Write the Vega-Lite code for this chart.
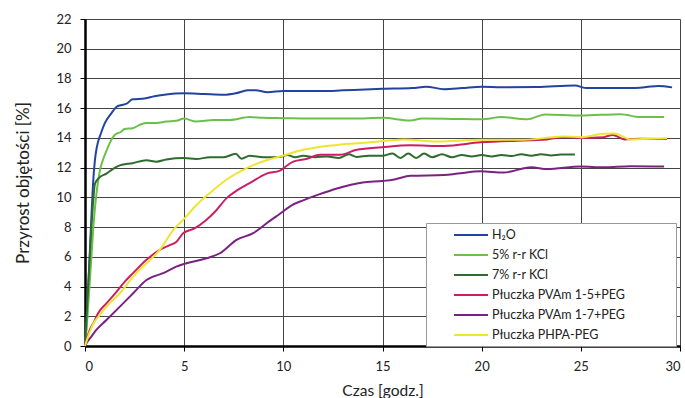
{
  "$schema": "https://vega.github.io/schema/vega-lite/v6.json",
  "width": 595,
  "height": 327,
  "autosize": {"type": "none"},
  "padding": {"left": 85, "top": 19, "right": 5, "bottom": 52},
  "background": "white",
  "config": {
    "view": {"stroke": null},
    "font": "Lato",
    "axis": {
      "labelFont": "Lato", "labelFontSize": 13, "labelColor": "#222",
      "titleFont": "Lato", "titleFontSize": 15.5, "titleFontWeight": "normal", "titleColor": "#222",
      "gridColor": "#444", "gridWidth": 1, "gridOpacity": 1,
      "domainColor": "#000", "domainWidth": 2.5,
      "tickColor": "#000", "tickSize": 5, "tickWidth": 1
    },
    "legend": {
      "labelFont": "Lato", "labelFontSize": 12.5, "labelColor": "#222"
    }
  },
  "data": {"values": [
    {"s":"H₂O","t":0,"v":0},{"s":"H₂O","t":0.1,"v":2},{"s":"H₂O","t":0.2,"v":5},{"s":"H₂O","t":0.3,"v":8},{"s":"H₂O","t":0.4,"v":10.8},{"s":"H₂O","t":0.5,"v":12.5},{"s":"H₂O","t":0.6,"v":13.4},{"s":"H₂O","t":0.8,"v":14.3},{"s":"H₂O","t":1.0,"v":15},{"s":"H₂O","t":1.3,"v":15.6},{"s":"H₂O","t":1.6,"v":16.1},{"s":"H₂O","t":1.8,"v":16.2},{"s":"H₂O","t":2.1,"v":16.3},{"s":"H₂O","t":2.4,"v":16.6},{"s":"H₂O","t":3.0,"v":16.65},{"s":"H₂O","t":3.5,"v":16.8},{"s":"H₂O","t":4.0,"v":16.9},{"s":"H₂O","t":5.0,"v":17.0},{"s":"H₂O","t":6.0,"v":16.95},{"s":"H₂O","t":7.0,"v":16.9},{"s":"H₂O","t":7.6,"v":17.0},{"s":"H₂O","t":8.2,"v":17.2},{"s":"H₂O","t":8.6,"v":17.2},{"s":"H₂O","t":9.2,"v":17.08},{"s":"H₂O","t":10,"v":17.15},{"s":"H₂O","t":12,"v":17.15},{"s":"H₂O","t":13,"v":17.2},{"s":"H₂O","t":15,"v":17.3},{"s":"H₂O","t":16.5,"v":17.35},{"s":"H₂O","t":17.2,"v":17.45},{"s":"H₂O","t":18.1,"v":17.28},{"s":"H₂O","t":19,"v":17.35},{"s":"H₂O","t":20,"v":17.45},{"s":"H₂O","t":21,"v":17.4},{"s":"H₂O","t":22.8,"v":17.42},{"s":"H₂O","t":24.7,"v":17.52},{"s":"H₂O","t":25.3,"v":17.35},{"s":"H₂O","t":26,"v":17.35},{"s":"H₂O","t":27.4,"v":17.35},{"s":"H₂O","t":28.3,"v":17.42},{"s":"H₂O","t":28.9,"v":17.5},{"s":"H₂O","t":29.6,"v":17.4},

    {"s":"5% r-r KCl","t":0,"v":0},{"s":"5% r-r KCl","t":0.1,"v":1.5},{"s":"5% r-r KCl","t":0.2,"v":3.5},{"s":"5% r-r KCl","t":0.3,"v":5.5},{"s":"5% r-r KCl","t":0.45,"v":8.5},{"s":"5% r-r KCl","t":0.6,"v":10.5},{"s":"5% r-r KCl","t":0.75,"v":11.8},{"s":"5% r-r KCl","t":0.9,"v":12.5},{"s":"5% r-r KCl","t":1.1,"v":13.2},{"s":"5% r-r KCl","t":1.3,"v":13.8},{"s":"5% r-r KCl","t":1.5,"v":14.2},{"s":"5% r-r KCl","t":1.8,"v":14.4},{"s":"5% r-r KCl","t":2.0,"v":14.6},{"s":"5% r-r KCl","t":2.4,"v":14.65},{"s":"5% r-r KCl","t":2.8,"v":14.9},{"s":"5% r-r KCl","t":3.1,"v":15.0},{"s":"5% r-r KCl","t":3.6,"v":15.0},{"s":"5% r-r KCl","t":4.1,"v":15.1},{"s":"5% r-r KCl","t":4.6,"v":15.15},{"s":"5% r-r KCl","t":5.0,"v":15.3},{"s":"5% r-r KCl","t":5.6,"v":15.1},{"s":"5% r-r KCl","t":6.5,"v":15.2},{"s":"5% r-r KCl","t":7.3,"v":15.2},{"s":"5% r-r KCl","t":8.3,"v":15.4},{"s":"5% r-r KCl","t":9,"v":15.35},{"s":"5% r-r KCl","t":10,"v":15.33},{"s":"5% r-r KCl","t":12,"v":15.3},{"s":"5% r-r KCl","t":13.5,"v":15.3},{"s":"5% r-r KCl","t":15,"v":15.35},{"s":"5% r-r KCl","t":16.4,"v":15.17},{"s":"5% r-r KCl","t":17,"v":15.3},{"s":"5% r-r KCl","t":18.5,"v":15.28},{"s":"5% r-r KCl","t":20,"v":15.25},{"s":"5% r-r KCl","t":21,"v":15.4},{"s":"5% r-r KCl","t":22.3,"v":15.25},{"s":"5% r-r KCl","t":23.2,"v":15.58},{"s":"5% r-r KCl","t":25,"v":15.5},{"s":"5% r-r KCl","t":27,"v":15.6},{"s":"5% r-r KCl","t":28,"v":15.4},{"s":"5% r-r KCl","t":29.2,"v":15.4},

    {"s":"7% r-r KCl","t":0,"v":0},{"s":"7% r-r KCl","t":0.1,"v":2.5},{"s":"7% r-r KCl","t":0.2,"v":5},{"s":"7% r-r KCl","t":0.3,"v":7.5},{"s":"7% r-r KCl","t":0.4,"v":9.5},{"s":"7% r-r KCl","t":0.5,"v":10.9},{"s":"7% r-r KCl","t":0.7,"v":11.3},{"s":"7% r-r KCl","t":1.08,"v":11.6},{"s":"7% r-r KCl","t":1.4,"v":11.9},{"s":"7% r-r KCl","t":1.75,"v":12.15},{"s":"7% r-r KCl","t":2.4,"v":12.3},{"s":"7% r-r KCl","t":3.1,"v":12.5},{"s":"7% r-r KCl","t":3.6,"v":12.4},{"s":"7% r-r KCl","t":4.1,"v":12.55},{"s":"7% r-r KCl","t":5.0,"v":12.64},{"s":"7% r-r KCl","t":5.6,"v":12.58},{"s":"7% r-r KCl","t":6.3,"v":12.7},{"s":"7% r-r KCl","t":7,"v":12.7},{"s":"7% r-r KCl","t":7.6,"v":12.93},{"s":"7% r-r KCl","t":7.9,"v":12.6},{"s":"7% r-r KCl","t":8.3,"v":12.8},{"s":"7% r-r KCl","t":9,"v":12.7},{"s":"7% r-r KCl","t":9.8,"v":12.72},{"s":"7% r-r KCl","t":10.2,"v":12.85},{"s":"7% r-r KCl","t":10.6,"v":12.7},{"s":"7% r-r KCl","t":11,"v":12.8},{"s":"7% r-r KCl","t":11.6,"v":12.7},{"s":"7% r-r KCl","t":12.2,"v":12.75},{"s":"7% r-r KCl","t":12.8,"v":12.65},{"s":"7% r-r KCl","t":13.3,"v":12.9},{"s":"7% r-r KCl","t":13.7,"v":12.72},{"s":"7% r-r KCl","t":14.3,"v":12.8},{"s":"7% r-r KCl","t":15,"v":12.8},{"s":"7% r-r KCl","t":15.5,"v":12.95},{"s":"7% r-r KCl","t":15.9,"v":12.65},{"s":"7% r-r KCl","t":16.3,"v":12.95},{"s":"7% r-r KCl","t":16.7,"v":12.65},{"s":"7% r-r KCl","t":17.1,"v":12.95},{"s":"7% r-r KCl","t":17.5,"v":12.7},{"s":"7% r-r KCl","t":18,"v":12.9},{"s":"7% r-r KCl","t":18.5,"v":12.7},{"s":"7% r-r KCl","t":19,"v":12.85},{"s":"7% r-r KCl","t":19.5,"v":12.75},{"s":"7% r-r KCl","t":20,"v":12.85},{"s":"7% r-r KCl","t":20.5,"v":12.75},{"s":"7% r-r KCl","t":21,"v":12.85},{"s":"7% r-r KCl","t":21.5,"v":12.78},{"s":"7% r-r KCl","t":22,"v":12.9},{"s":"7% r-r KCl","t":22.5,"v":12.8},{"s":"7% r-r KCl","t":23,"v":12.9},{"s":"7% r-r KCl","t":23.5,"v":12.82},{"s":"7% r-r KCl","t":24,"v":12.88},{"s":"7% r-r KCl","t":24.7,"v":12.88},

    {"s":"Płuczka PVAm 1-5+PEG","t":0,"v":0},{"s":"Płuczka PVAm 1-5+PEG","t":0.24,"v":1.08},{"s":"Płuczka PVAm 1-5+PEG","t":0.45,"v":1.6},{"s":"Płuczka PVAm 1-5+PEG","t":0.66,"v":2.2},{"s":"Płuczka PVAm 1-5+PEG","t":1.08,"v":2.87},{"s":"Płuczka PVAm 1-5+PEG","t":1.5,"v":3.5},{"s":"Płuczka PVAm 1-5+PEG","t":1.92,"v":4.2},{"s":"Płuczka PVAm 1-5+PEG","t":2.42,"v":4.9},{"s":"Płuczka PVAm 1-5+PEG","t":3.1,"v":5.8},{"s":"Płuczka PVAm 1-5+PEG","t":3.77,"v":6.46},{"s":"Płuczka PVAm 1-5+PEG","t":4.3,"v":6.8},{"s":"Płuczka PVAm 1-5+PEG","t":4.6,"v":7.0},{"s":"Płuczka PVAm 1-5+PEG","t":4.96,"v":7.6},{"s":"Płuczka PVAm 1-5+PEG","t":5.5,"v":7.9},{"s":"Płuczka PVAm 1-5+PEG","t":6.13,"v":8.5},{"s":"Płuczka PVAm 1-5+PEG","t":6.6,"v":9.1},{"s":"Płuczka PVAm 1-5+PEG","t":7.14,"v":9.95},{"s":"Płuczka PVAm 1-5+PEG","t":7.7,"v":10.5},{"s":"Płuczka PVAm 1-5+PEG","t":8.3,"v":10.96},{"s":"Płuczka PVAm 1-5+PEG","t":9.16,"v":11.6},{"s":"Płuczka PVAm 1-5+PEG","t":9.83,"v":11.8},{"s":"Płuczka PVAm 1-5+PEG","t":10,"v":11.96},{"s":"Płuczka PVAm 1-5+PEG","t":10.5,"v":12.4},{"s":"Płuczka PVAm 1-5+PEG","t":11.2,"v":12.6},{"s":"Płuczka PVAm 1-5+PEG","t":11.85,"v":12.86},{"s":"Płuczka PVAm 1-5+PEG","t":12.86,"v":12.86},{"s":"Płuczka PVAm 1-5+PEG","t":13.7,"v":13.2},{"s":"Płuczka PVAm 1-5+PEG","t":14.97,"v":13.37},{"s":"Płuczka PVAm 1-5+PEG","t":16.4,"v":13.5},{"s":"Płuczka PVAm 1-5+PEG","t":18.1,"v":13.46},{"s":"Płuczka PVAm 1-5+PEG","t":19.95,"v":13.7},{"s":"Płuczka PVAm 1-5+PEG","t":22.1,"v":13.83},{"s":"Płuczka PVAm 1-5+PEG","t":23.1,"v":13.87},{"s":"Płuczka PVAm 1-5+PEG","t":24.1,"v":14.05},{"s":"Płuczka PVAm 1-5+PEG","t":25,"v":14.0},{"s":"Płuczka PVAm 1-5+PEG","t":26.15,"v":14.05},{"s":"Płuczka PVAm 1-5+PEG","t":26.6,"v":14.2},{"s":"Płuczka PVAm 1-5+PEG","t":27.2,"v":13.9},{"s":"Płuczka PVAm 1-5+PEG","t":28,"v":13.95},{"s":"Płuczka PVAm 1-5+PEG","t":29.35,"v":13.93},

    {"s":"Płuczka PVAm 1-7+PEG","t":0,"v":0},{"s":"Płuczka PVAm 1-7+PEG","t":0.07,"v":0.18},{"s":"Płuczka PVAm 1-7+PEG","t":0.3,"v":0.6},{"s":"Płuczka PVAm 1-7+PEG","t":0.57,"v":1.08},{"s":"Płuczka PVAm 1-7+PEG","t":1.08,"v":1.75},{"s":"Płuczka PVAm 1-7+PEG","t":1.76,"v":2.65},{"s":"Płuczka PVAm 1-7+PEG","t":2.43,"v":3.55},{"s":"Płuczka PVAm 1-7+PEG","t":3.1,"v":4.44},{"s":"Płuczka PVAm 1-7+PEG","t":3.94,"v":4.9},{"s":"Płuczka PVAm 1-7+PEG","t":4.6,"v":5.34},{"s":"Płuczka PVAm 1-7+PEG","t":5.12,"v":5.57},{"s":"Płuczka PVAm 1-7+PEG","t":6.13,"v":5.9},{"s":"Płuczka PVAm 1-7+PEG","t":6.8,"v":6.24},{"s":"Płuczka PVAm 1-7+PEG","t":7.64,"v":7.14},{"s":"Płuczka PVAm 1-7+PEG","t":8.48,"v":7.59},{"s":"Płuczka PVAm 1-7+PEG","t":9.3,"v":8.4},{"s":"Płuczka PVAm 1-7+PEG","t":9.83,"v":8.9},{"s":"Płuczka PVAm 1-7+PEG","t":10.4,"v":9.45},{"s":"Płuczka PVAm 1-7+PEG","t":11,"v":9.8},{"s":"Płuczka PVAm 1-7+PEG","t":11.8,"v":10.2},{"s":"Płuczka PVAm 1-7+PEG","t":12.7,"v":10.6},{"s":"Płuczka PVAm 1-7+PEG","t":14.0,"v":11.0},{"s":"Płuczka PVAm 1-7+PEG","t":15,"v":11.1},{"s":"Płuczka PVAm 1-7+PEG","t":15.6,"v":11.2},{"s":"Płuczka PVAm 1-7+PEG","t":16.4,"v":11.45},{"s":"Płuczka PVAm 1-7+PEG","t":18.1,"v":11.5},{"s":"Płuczka PVAm 1-7+PEG","t":18.8,"v":11.6},{"s":"Płuczka PVAm 1-7+PEG","t":19.95,"v":11.75},{"s":"Płuczka PVAm 1-7+PEG","t":21.1,"v":11.67},{"s":"Płuczka PVAm 1-7+PEG","t":22.5,"v":12.03},{"s":"Płuczka PVAm 1-7+PEG","t":23.3,"v":11.9},{"s":"Płuczka PVAm 1-7+PEG","t":25,"v":12.07},{"s":"Płuczka PVAm 1-7+PEG","t":26.15,"v":12.03},{"s":"Płuczka PVAm 1-7+PEG","t":27.5,"v":12.1},{"s":"Płuczka PVAm 1-7+PEG","t":29.2,"v":12.07},

    {"s":"Płuczka PHPA-PEG","t":0,"v":0},{"s":"Płuczka PHPA-PEG","t":0.2,"v":0.8},{"s":"Płuczka PHPA-PEG","t":0.42,"v":1.5},{"s":"Płuczka PHPA-PEG","t":0.75,"v":2.1},{"s":"Płuczka PHPA-PEG","t":1.08,"v":2.65},{"s":"Płuczka PHPA-PEG","t":1.76,"v":3.55},{"s":"Płuczka PHPA-PEG","t":2.43,"v":4.67},{"s":"Płuczka PHPA-PEG","t":3.1,"v":5.57},{"s":"Płuczka PHPA-PEG","t":3.77,"v":6.46},{"s":"Płuczka PHPA-PEG","t":4.44,"v":7.8},{"s":"Płuczka PHPA-PEG","t":4.96,"v":8.5},{"s":"Płuczka PHPA-PEG","t":5.63,"v":9.5},{"s":"Płuczka PHPA-PEG","t":6.3,"v":10.3},{"s":"Płuczka PHPA-PEG","t":7.14,"v":11.2},{"s":"Płuczka PHPA-PEG","t":8.15,"v":11.97},{"s":"Płuczka PHPA-PEG","t":9.16,"v":12.5},{"s":"Płuczka PHPA-PEG","t":9.83,"v":12.75},{"s":"Płuczka PHPA-PEG","t":11.0,"v":13.2},{"s":"Płuczka PHPA-PEG","t":12.7,"v":13.53},{"s":"Płuczka PHPA-PEG","t":14.4,"v":13.7},{"s":"Płuczka PHPA-PEG","t":16.07,"v":13.9},{"s":"Płuczka PHPA-PEG","t":17.75,"v":13.76},{"s":"Płuczka PHPA-PEG","t":19.95,"v":13.87},{"s":"Płuczka PHPA-PEG","t":22.1,"v":13.87},{"s":"Płuczka PHPA-PEG","t":24.1,"v":14.1},{"s":"Płuczka PHPA-PEG","t":25,"v":14.05},{"s":"Płuczka PHPA-PEG","t":26.15,"v":14.28},{"s":"Płuczka PHPA-PEG","t":26.7,"v":14.3},{"s":"Płuczka PHPA-PEG","t":27.5,"v":13.9},{"s":"Płuczka PHPA-PEG","t":28.5,"v":13.95},{"s":"Płuczka PHPA-PEG","t":29.35,"v":13.97}
  ]},
  "mark": {"type": "line", "interpolate": "monotone"},
  "encoding": {
    "x": {"field": "t", "type": "quantitative",
      "scale": {"domain": [0, 30], "nice": false},
      "axis": {"values": [0,5,10,15,20,25,30], "title": "Czas [godz.]", "labelPadding": 9, "titlePadding": 10}},
    "y": {"field": "v", "type": "quantitative",
      "scale": {"domain": [0, 22], "nice": false},
      "axis": {"values": [0,2,4,6,8,10,12,14,16,18,20,22], "title": "Przyrost objętości [%]", "titleFontSize": 17, "labelPadding": 9, "titlePadding": 23}},
    "color": {"field": "s", "type": "nominal",
      "scale": {
        "domain": ["H₂O","5% r-r KCl","7% r-r KCl","Płuczka PVAm 1-5+PEG","Płuczka PVAm 1-7+PEG","Płuczka PHPA-PEG"],
        "range": ["#2244a0","#6cc04a","#2e6b2e","#cc1f63","#7b2280","#efe52f"]},
      "legend": {"title": null, "orient": "none", "legendX": 341, "legendY": 204,
        "symbolType": "M-2.43,0H2.43", "symbolSize": 196, "strokeColor": "#999", "fillColor": "white",
        "padding": 4, "rowPadding": 5, "symbolOffset": 33, "labelOffset": 13, "labelLimit": 400,
        "labelExpr": "datum.label + '\u2003\u2003\u2003\u2003\u00a0\u00a0\u00a0\u200b'"}},
    "strokeWidth": {"field": "s", "type": "nominal",
      "scale": {
        "domain": ["H₂O","5% r-r KCl","7% r-r KCl","Płuczka PVAm 1-5+PEG","Płuczka PVAm 1-7+PEG","Płuczka PHPA-PEG"],
        "range": [2, 2, 2, 3.5, 3.5, 3.5]}}
  }
}
